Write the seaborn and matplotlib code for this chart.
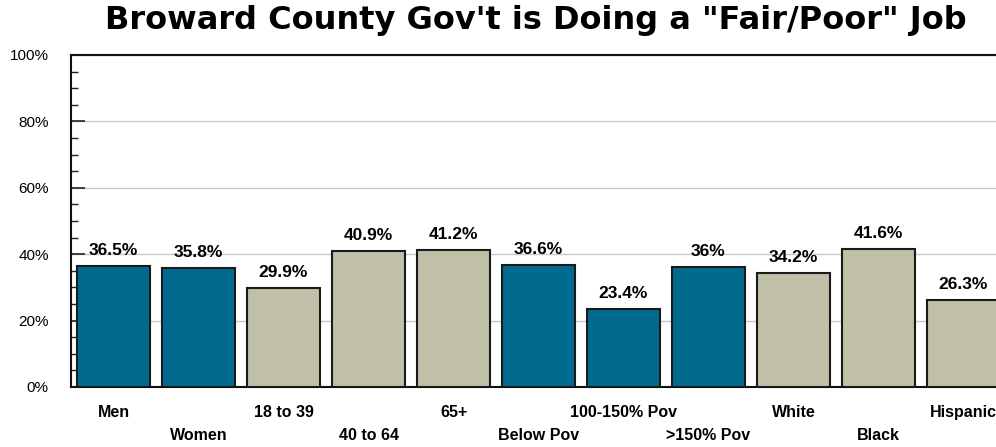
import pandas as pd
import numpy as np
import seaborn as sns
import matplotlib.pyplot as plt
from matplotlib.ticker import MultipleLocator, FuncFormatter

# chart data
categories = ["Men", "Women", "18 to 39", "40 to 64", "65+", "Below Pov",
              "100-150% Pov", ">150% Pov", "White", "Black", "Hispanic"]
values = [36.5, 35.8, 29.9, 40.9, 41.2, 36.6, 23.4, 36.0, 34.2, 41.6, 26.3]
value_labels = ["36.5%", "35.8%", "29.9%", "40.9%", "41.2%", "36.6%",
                "23.4%", "36%", "34.2%", "41.6%", "26.3%"]
groups = ["blue", "blue", "tan", "tan", "tan", "blue",
          "blue", "blue", "tan", "tan", "tan"]

BLUE = "#006B8F"
TAN = "#C0C0A8"

sns.set_style("white")
plt.rcParams['font.family'] = ['Liberation Sans', 'DejaVu Sans']
plt.rcParams['text.color'] = 'black'
plt.rcParams['xtick.color'] = 'black'
plt.rcParams['ytick.color'] = 'black'

df = pd.DataFrame({"cat": categories, "val": values, "grp": groups})

fig = plt.figure(figsize=(9.96, 4.47), dpi=100)
ax = fig.add_axes([71 / 996, 60 / 447, 935 / 996, 332 / 447])

sns.barplot(data=df, x="cat", y="val", hue="grp", palette={"blue": BLUE, "tan": TAN},
            dodge=False, width=0.85, saturation=1, edgecolor="#1a1a1a", linewidth=1.5,
            legend=False, ax=ax, zorder=3)

ax.set_xlim(-0.5, len(categories) - 0.5)
ax.set_ylim(0, 100)
ax.set_xlabel("")
ax.set_ylabel("")

# value labels
for i, (v, lab) in enumerate(zip(values, value_labels)):
    ax.annotate(lab, (i, v), xytext=(0, 8), textcoords="offset points",
                ha="center", va="baseline", fontsize=12.5, fontweight="bold")

# y axis
ax.yaxis.set_major_locator(MultipleLocator(20))
ax.yaxis.set_minor_locator(MultipleLocator(5))
ax.yaxis.set_major_formatter(FuncFormatter(lambda v, p: f"{int(v)}%"))
ax.tick_params(axis="y", which="major", direction="in", length=10, width=1.2,
               color="#222222", pad=16, labelsize=11, left=True)
ax.tick_params(axis="y", which="minor", direction="in", length=5, width=1.0,
               color="#222222", left=True)
ax.grid(axis="y", color="#c8c8c8", linewidth=1, zorder=0)
ax.set_axisbelow(True)

# x axis - staggered labels
ax.set_xticks(range(len(categories)))
ax.set_xticklabels(categories, fontsize=11.5, fontweight="bold")
ax.tick_params(axis="x", length=0)
for i, t in enumerate(ax.xaxis.get_major_ticks()):
    t.set_pad(13 if i % 2 == 0 else 29.5)

for s in ["left", "bottom", "top"]:
    ax.spines[s].set_visible(True)
    ax.spines[s].set_color("#111111")
    ax.spines[s].set_linewidth(1.5)
ax.spines["right"].set_visible(False)

fig.text(536 / 996, 1 - 29 / 447, "Broward County Gov't is Doing a \"Fair/Poor\" Job",
         ha="center", va="baseline", fontsize=23, fontweight="bold",
         family=['DejaVu Sans'])

fig.savefig("out.png", dpi=100)
